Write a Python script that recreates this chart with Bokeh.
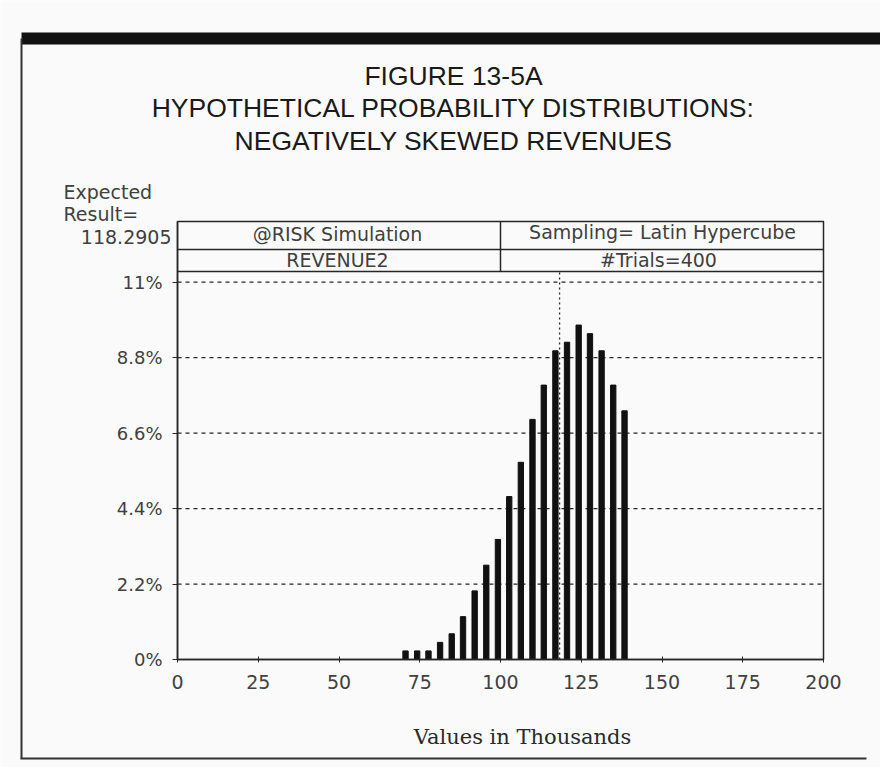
from bokeh.plotting import figure
from bokeh.models import (Range1d, FixedTicker, CustomJSTickFormatter, Label,
                          BoxAnnotation, ColumnDataSource)
from bokeh.embed import file_html
from bokeh.resources import INLINE

# ---------------- data ----------------
BIN_CENTERS = [70.6, 74.2, 77.7, 81.3, 84.9, 88.4, 92.0, 95.6, 99.2, 102.7,
               106.3, 109.9, 113.4, 117.0, 120.6, 124.2, 127.7, 131.3, 134.9, 138.4]
PROBABILITY_PCT = [0.25, 0.25, 0.25, 0.5, 0.75, 1.25, 2.0, 2.75, 3.5, 4.75,
                   5.75, 7.0, 8.0, 9.0, 9.25, 9.75, 9.5, 9.0, 8.0, 7.25]
EXPECTED_RESULT = 118.2905
X_TICKS = [0, 25, 50, 75, 100, 125, 150, 175, 200]
Y_TICKS = [0, 2.2, 4.4, 6.6, 8.8, 11]
TITLE_LINES = ["FIGURE 13-5A",
               "HYPOTHETICAL PROBABILITY DISTRIBUTIONS:",
               "NEGATIVELY SKEWED REVENUES"]
HEADER_LEFT = ["@RISK Simulation", "REVENUE2"]
HEADER_RIGHT = ["Sampling= Latin Hypercube", "#Trials=400"]
X_LABEL = "Values in Thousands"

# ---------------- layout (page pixels) ----------------
FIG_W, FIG_H = 880, 767
FRAME_L, FRAME_R = 177, 823      # x = 0 .. 200
FRAME_T, FRAME_B = 221, 659      # header top .. 0 %
PX_PER_PCT = 34.3
X_MAX = 200
Y_TOP = (FRAME_B - FRAME_T) / PX_PER_PCT
PX_PER_X = (FRAME_R - FRAME_L) / X_MAX


def X(px):
    return (px - FRAME_L) / PX_PER_X


def Y(py):
    return (FRAME_B - py) / PX_PER_PCT


INK = "#262626"
TXT = "#404040"
BG = "#fafafa"
PLOT_FONT = "DejaVu Sans"

p = figure(width=FIG_W, height=FIG_H, output_backend="svg", toolbar_location=None,
           x_range=Range1d(X(0), X(FIG_W)), y_range=Range1d(Y(FIG_H), Y(0)),
           min_border=0, min_border_left=0, min_border_right=0,
           min_border_top=0, min_border_bottom=0)
p.background_fill_color = BG
p.border_fill_color = BG
p.outline_line_color = None
p.grid.visible = False

# axes drawn at the data origin
p.xaxis.fixed_location = 0
p.yaxis.fixed_location = 0
p.xaxis.bounds = (0, X_MAX)
p.yaxis.bounds = (0, Y_TOP)
p.xaxis.ticker = FixedTicker(ticks=X_TICKS)
p.yaxis.ticker = FixedTicker(ticks=Y_TICKS)
p.yaxis.formatter = CustomJSTickFormatter(code="return tick + '%';")
for ax in (p.xaxis[0], p.yaxis[0]):
    ax.axis_line_color = INK
    ax.axis_line_width = 1.5
    ax.major_tick_line_color = INK
    ax.minor_tick_line_color = None
    ax.major_label_text_font = PLOT_FONT
    ax.major_label_text_color = TXT
p.xaxis.major_tick_in = 3
p.xaxis.major_tick_out = 3
p.xaxis.major_label_standoff = 12
p.xaxis.major_label_text_font_size = "19px"
p.yaxis.major_tick_in = 0
p.yaxis.major_tick_out = 5
p.yaxis.major_label_standoff = 10
p.yaxis.major_label_text_font_size = "18px"

# dotted horizontal grid lines across the plot box, at the y ticks
grid_y = [t for t in Y_TICKS if t > 0]
p.segment(x0=[0] * len(grid_y), y0=grid_y, x1=[X_MAX] * len(grid_y), y1=grid_y,
          line_color=INK, line_width=1.3, line_dash="4 4")

# plot box (top and right edges) and header box
p.add_layout(BoxAnnotation(left=0, right=X_MAX, bottom=0, top=Y_TOP,
                           fill_alpha=0, line_color=INK, line_alpha=1, line_width=1.5))
HDR_MID, HDR_BOT = 249, 271
p.segment(x0=[0, 0, X_MAX / 2], y0=[Y(HDR_MID), Y(HDR_BOT), Y(HDR_BOT)],
          x1=[X_MAX, X_MAX, X_MAX / 2], y1=[Y(HDR_MID), Y(HDR_BOT), Y_TOP],
          line_color=INK, line_width=1.5)

# expected value marker
p.segment(x0=[EXPECTED_RESULT], y0=[0], x1=[EXPECTED_RESULT], y1=[Y(HDR_BOT)],
          line_color=INK, line_width=1.3, line_dash="2 3")

# bars
src = ColumnDataSource(dict(x=BIN_CENTERS, top=PROBABILITY_PCT))
p.vbar(x="x", top="top", bottom=0, width=1.65, source=src,
       fill_color="#111111", line_color="#111111")

# header texts
hdr_pos = [(337, 233, HEADER_LEFT[0]), (337, 259, HEADER_LEFT[1]),
           (662, 231, HEADER_RIGHT[0]), (658, 259, HEADER_RIGHT[1])]
for px, py, t in hdr_pos:
    p.add_layout(Label(x=X(px), y=Y(py), text=t, text_align="center",
                       text_baseline="middle", text_font=PLOT_FONT,
                       text_font_size="19px", text_color=TXT))

# titles
for py, t in zip((75, 107, 140), TITLE_LINES):
    p.add_layout(Label(x=X(453), y=Y(py), text=t, text_align="center",
                       text_baseline="middle", text_font="Liberation Sans",
                       text_font_size="26.5px", text_color="#1a1a1a"))

# expected result
p.add_layout(Label(x=X(63), y=Y(191), text="Expected", text_align="left",
                   text_baseline="middle", text_font=PLOT_FONT,
                   text_font_size="19px", text_color=TXT))
p.add_layout(Label(x=X(63), y=Y(213), text="Result=", text_align="left",
                   text_baseline="middle", text_font=PLOT_FONT,
                   text_font_size="19px", text_color=TXT))
p.add_layout(Label(x=X(171), y=Y(236), text=f"{EXPECTED_RESULT:.4f}", text_align="right",
                   text_baseline="middle", text_font=PLOT_FONT,
                   text_font_size="19px", text_color=TXT))

# x axis title
p.add_layout(Label(x=X(522), y=Y(736), text=X_LABEL, text_align="center",
                   text_baseline="middle", text_font="DejaVu Serif",
                   text_font_size="21px", text_color="#2a2a2a"))

# page frame of the scanned sheet
p.add_layout(BoxAnnotation(left=X(21), right=X(FIG_W), top=Y(32), bottom=Y(44),
                           fill_color="#111111", fill_alpha=1, line_alpha=0))
p.add_layout(BoxAnnotation(left=X(20), right=X(22), top=Y(38), bottom=Y(758),
                           fill_color="#333333", fill_alpha=1, line_alpha=0))
p.add_layout(BoxAnnotation(left=X(20), right=X(866), top=Y(757), bottom=Y(759),
                           fill_color="#333333", fill_alpha=1, line_alpha=0))

open("out.html", "w").write(file_html(p, INLINE))
